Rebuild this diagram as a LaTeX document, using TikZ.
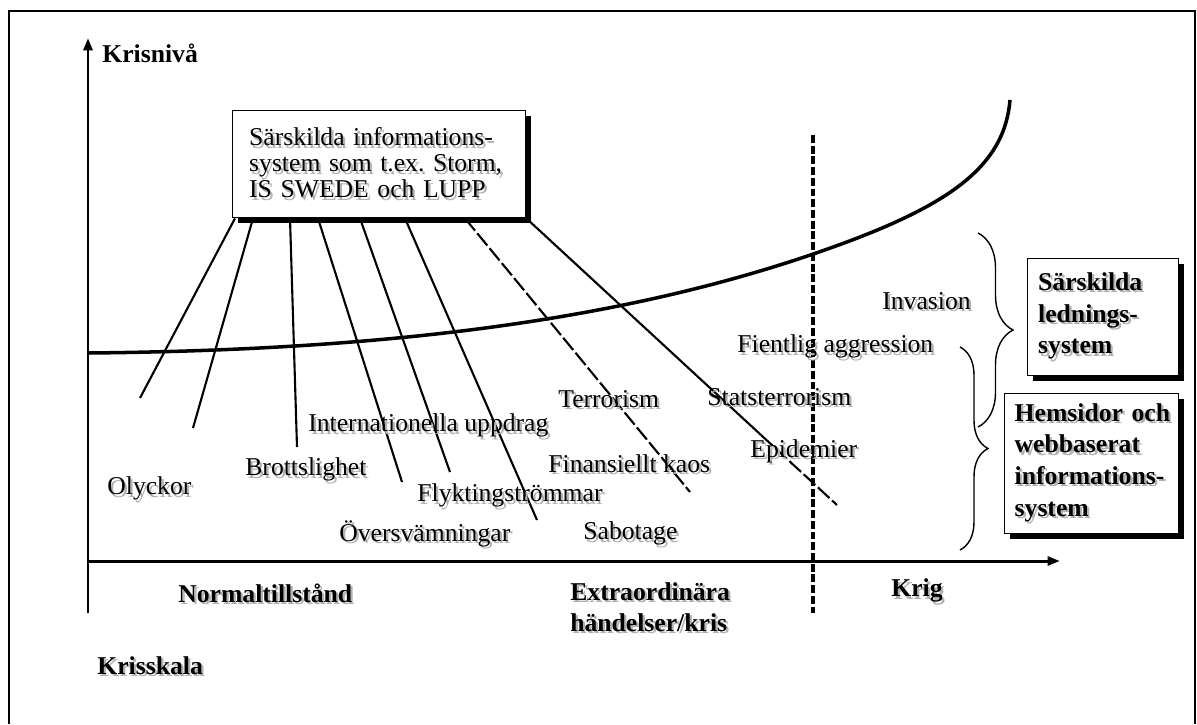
\documentclass[tikz,border=0pt]{standalone}
\usepackage{fontspec}
\setmainfont{Liberation Serif}
\usetikzlibrary{arrows.meta, decorations.pathreplacing, shadows, calc}

\frenchspacing
\newcommand{\lblsize}{\fontsize{14.6}{17}\selectfont}
\newcommand{\shtxt}[1]{\mbox{\rlap{\kern1.3pt\raisebox{-1.3pt}{\textcolor{black!30}{#1}}}#1}}

\tikzset{
  evt/.style={anchor=west, inner sep=0pt, font=\lblsize},
  axlbl/.style={anchor=west, inner sep=0pt, font=\lblsize\bfseries},
  axisline/.style={line width=1.7pt, -{Triangle[length=7pt,width=5pt]}},
  fan/.style={line width=1.2pt},
  longdash/.style={dash pattern=on 9pt off 2pt},
  sysbox/.style={draw, line width=0.8pt, fill=white, anchor=north west, align=left,
    drop shadow={shadow xshift=0.11cm, shadow yshift=-0.11cm, fill=black, opacity=1}},
}

\begin{document}
\begin{tikzpicture}[x=0.02cm, y=-0.02cm]
    \useasboundingbox (0,0) rectangle (1197,724);

    % frame
    \draw[line width=0.8pt] (9,724) -- (9,11) -- (1195,11) -- (1195,724);

    % axes
    \draw[axisline] (88,613) -- (88,38);
    \draw[axisline] (88,561) -- (1060,561);
    \node[axlbl] (krisniva) at (102,53) {Krisnivå};

    % border to war
    \draw[line width=2pt, dash pattern=on 4.5pt off 1.6pt] (813,135) -- (813,613);

    % crisis curve
    \draw[line width=2pt] (88,353) .. controls (400,350) and (650,318) .. (860,237)
        .. controls (960,198) and (1005,160) .. (1010,100);

    % information systems
    \node[sysbox, font=\fontsize{14.6}{14.8}\selectfont, text width=5.2cm, inner xsep=0.33cm,
          minimum height=2.14cm] (info) at (232,110)
        {\shtxt{Särskilda informations-}\\ \shtxt{system som t.ex. Storm,}\\ \shtxt{IS SWEDE och LUPP}};

    % lines to the events
    \foreach \dx/\ex/\ey in {3/140/398, 21/193/428, 58/297/447, 86/402/482, 128/450/472, 173/537/520}
        {
            \draw[fan] ($(info.south west)+(\dx,0)$) -- (\ex,\ey);
        }
    \draw[fan, longdash] ($(info.south west)+(233,0)$) -- (690,492);
    \coordinate (statsmid) at (761,435);
    \draw[fan] (info.south east) -- (statsmid);
    \draw[fan, longdash] (statsmid) -- (837,505);

    % events
    \node[evt] (olyckor) at (107,490) {\shtxt{Olyckor}};
    \node[evt] (brott) at (245,471) {\shtxt{Brottslighet}};
    \node[evt] (intl) at (308,427) {\shtxt{Internationella uppdrag}};
    \node[evt] (flykt) at (417,497) {\shtxt{Flyktingströmmar}};
    \node[evt] (oversvamn) at (339,535) {\shtxt{Översvämningar}};
    \node[evt] (sabotage) at (583,535) {\shtxt{Sabotage}};
    \node[evt] (finans) at (548,465) {\shtxt{Finansiellt kaos}};
    \node[evt] (terror) at (558,400) {\shtxt{Terrorism}};
    \node[evt] (statsterror) at (707,398) {\shtxt{Statsterrorism}};
    \node[evt] (epidemi) at (750,452) {\shtxt{Epidemier}};
    \node[evt] (fientlig) at (737,348) {\shtxt{Fientlig aggression}};
    \node[evt] (invasion) at (882,302) {\shtxt{Invasion}};

    % braces
    \draw[line width=0.8pt, decorate, decoration={brace, amplitude=0.7cm}] (978,233) -- (978,427);
    \draw[line width=0.8pt, decorate, decoration={brace, amplitude=0.56cm}] (960,347) -- (960,550);

    % command systems
    \node[sysbox, font=\fontsize{14.6}{18}\selectfont\bfseries, text width=2.6cm, inner xsep=0.21cm,
          minimum height=2.34cm] (ledning) at (1027,258)
        {\shtxt{Särskilda}\\ \shtxt{lednings-}\\ \shtxt{system}};
    \node[sysbox, font=\fontsize{14.6}{18}\selectfont\bfseries, text width=3.08cm, inner xsep=0.2cm,
          minimum height=2.8cm] (hemsidor) at (1004,393)
        {\shtxt{Hemsidor och}\\ \shtxt{webbaserat}\\ \shtxt{informations-}\\ \shtxt{system}};

    % scale
    \node[axlbl] (normal) at (178,594) {\shtxt{Normaltillstånd}};
    \node[axlbl, align=left, font=\fontsize{14.6}{17.6}\selectfont\bfseries] (extra) at (570,608)
        {\shtxt{Extraordinära}\\ \shtxt{händelser/kris}};
    \node[axlbl] (krig) at (891,592) {\shtxt{Krig}};
    \node[axlbl] (krisskala) at (97,667) {\shtxt{Krisskala}};

\end{tikzpicture}
\end{document}
